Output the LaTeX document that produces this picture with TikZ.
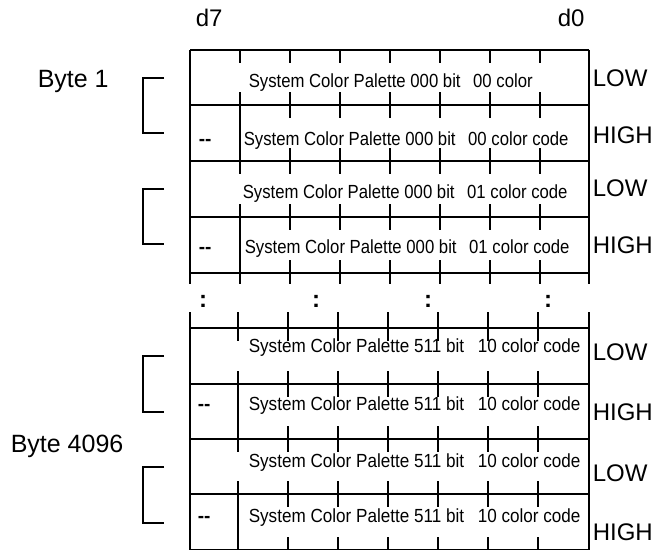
\documentclass[tikz,border=0pt]{standalone}
\usepackage{fontspec}
\setmainfont{Liberation Sans}
\newcommand{\rowtxt}[1]{\scalebox{0.88}[1]{#1}}
\newcommand{\rowtxtb}[1]{\scalebox{0.9}[1]{#1}}
\begin{document}
\begin{tikzpicture}[x=1pt,y=-1pt,line width=1.5pt,
  rowtext/.style={font=\fontsize{19}{22}\selectfont,anchor=base west,inner sep=0pt},
  sidetext/.style={font=\fontsize{24}{28}\selectfont,anchor=base west,inner sep=0pt},
  bytetext/.style={font=\fontsize{25}{29}\selectfont,anchor=base west,inner sep=0pt},
  dottext/.style={font=\bfseries\fontsize{24}{26}\selectfont,inner sep=0pt},
  bracket/.style={line width=1.5pt}]
\useasboundingbox (0,0) rectangle (658,551);
% ---------- upper block ----------
\draw (190,50) -- (589,50);
\foreach \y in {105,161,217,273} \draw (190,\y) -- (589,\y);
\draw (190,50) -- (190,273);
\draw (589,50) -- (589,273);
% full divider in HIGH rows
\draw (240,105) -- (240,161);
\draw (240,217) -- (240,273);
% ticks in upper rows
\foreach \t/\b in {50/105,105/161,161/217,217/273}{
  \foreach \x in {290,340,...,540}{
    \draw (\x,\t) -- (\x,\t+13);
    \draw (\x,\b-13) -- (\x,\b);
  }
}
\foreach \t/\b in {50/105,161/217}{
  \draw (240,\t) -- (240,\t+13);
  \draw (240,\b-13) -- (240,\b);
}
% ---------- gap row ----------
\foreach \x in {190,240,...,540}{
  \draw (\x,273) -- (\x,284);
}
\draw (589,273) -- (589,284);
\foreach \x in {190,238,288,...,538}{
  \draw (\x,312) -- (\x,328);
}
\draw (589,312) -- (589,328);
\node[dottext] (c1) at (203,301) {:};
\node[dottext] (c2) at (316,301) {:};
\node[dottext] (c3) at (428,301) {:};
\node[dottext] (c4) at (548,301) {:};
% ---------- lower block ----------
\foreach \y in {328,384,439,494} \draw (190,\y) -- (589,\y);
\draw (190,549.5) -- (589,549.5);
\draw (190,328) -- (190,550);
\draw (589,328) -- (589,550);
\draw (238,384) -- (238,439);
\draw (238,494) -- (238,550);
\foreach \t/\b in {328/384,384/439,439/494,494/550}{
  \foreach \x in {288,338,...,538}{
    \draw (\x,\t) -- (\x,\t+13);
    \draw (\x,\b-13) -- (\x,\b);
  }
}
\foreach \t/\b in {328/384,439/494}{
  \draw (238,\t) -- (238,\t+13);
  \draw (238,\b-13) -- (238,\b);
}
% ---------- row texts ----------
\node[rowtext] (r1) at (248,88) {\rowtxt{System Color Palette 000 bit\hspace{0.75em}00 color}};
\node[rowtext] (r2) at (243,145) {\rowtxt{System Color Palette 000 bit\hspace{0.75em}00 color code}};
\node[rowtext] (r3) at (242,198) {\rowtxt{System Color Palette 000 bit\hspace{0.75em}01 color code}};
\node[rowtext] (r4) at (244,253) {\rowtxt{System Color Palette 000 bit\hspace{0.75em}01 color code}};
\node[rowtext] (r5) at (248,352) {\rowtxtb{System Color Palette 511 bit\hspace{0.8em}10 color code}};
\node[rowtext] (r6) at (248,410) {\rowtxtb{System Color Palette 511 bit\hspace{0.8em}10 color code}};
\node[rowtext] (r7) at (248,467) {\rowtxtb{System Color Palette 511 bit\hspace{0.8em}10 color code}};
\node[rowtext] (r8) at (248,522) {\rowtxtb{System Color Palette 511 bit\hspace{0.8em}10 color code}};
\node[rowtext] (h1) at (198,145) {\bfseries -{}-};
\node[rowtext] (h2) at (198,253) {\bfseries -{}-};
\node[rowtext] (h3) at (197,410) {\bfseries -{}-};
\node[rowtext] (h4) at (197,522) {\bfseries -{}-};
% ---------- side labels ----------
\node[sidetext] (l1) at (592,86.5) {LOW};
\node[sidetext] (g1) at (592,143.5) {HIGH};
\node[sidetext] (l2) at (592,196.5) {LOW};
\node[sidetext] (g2) at (592,253.5) {HIGH};
\node[sidetext] (l3) at (592,360.5) {LOW};
\node[sidetext] (g3) at (592,420.5) {HIGH};
\node[sidetext] (l4) at (592,481.5) {LOW};
\node[sidetext] (g4) at (592,540.5) {HIGH};
\node[sidetext] (d7) at (195,27) {d7};
\node[sidetext] (d0) at (557,27) {d0};
\node[bytetext] (b1) at (37,87) {Byte 1};
\node[bytetext] (b4096) at (10,452) {Byte 4096};
% ---------- brackets ----------
\coordinate (k1a) at (164,78);  \coordinate (k1b) at (164,133);
\coordinate (k2a) at (164,189); \coordinate (k2b) at (164,244);
\coordinate (k3a) at (164,356); \coordinate (k3b) at (164,412);
\coordinate (k4a) at (164,467); \coordinate (k4b) at (164,523);
\draw[bracket] (k1a) -- ++(-21,0) |- (k1b);
\draw[bracket] (k2a) -- ++(-21,0) |- (k2b);
\draw[bracket] (k3a) -- ++(-21,0) |- (k3b);
\draw[bracket] (k4a) -- ++(-21,0) |- (k4b);
\end{tikzpicture}
\end{document}
